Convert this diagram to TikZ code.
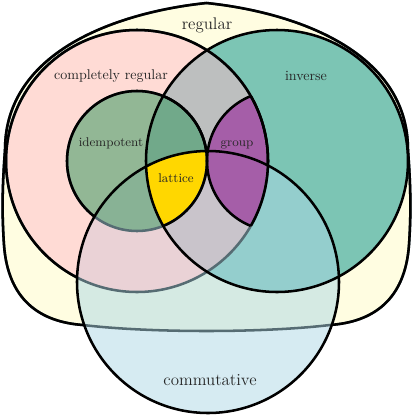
\documentclass[tikz,border=0pt]{standalone}
\usepackage{xcolor}
\usepackage{tikz}
\definecolor{RegularFill}{HTML}{FFFDE1}
\definecolor{InverseFill}{HTML}{7CC5B4}
\definecolor{CommFill}{HTML}{ADD8E6}
\definecolor{CRFill}{HTML}{FFBBCB}
\definecolor{IdemFill}{HTML}{279456}
\definecolor{LatticeFill}{HTML}{FFD700}
\definecolor{GroupFill}{HTML}{A55EA8}
\definecolor{DimLine}{HTML}{566C73}

\begin{document}
\begin{tikzpicture}[x=0.25mm, y=-0.25mm,
  outline/.style={line width=1.8pt, black},
  dimmed/.style={line width=1.8pt, DimLine},
  setname/.style={text=black!85}
]
\useasboundingbox (0,0) rectangle (416,415);
\coordinate (cr) at (137,161);
\coordinate (inv) at (277,161);
\coordinate (comm) at (208,282);
\def\regpath{(206.5,3) .. controls (120,12) and (5,50) .. (5,150)
  .. controls (2,190) and (2,215) .. (4,245)
  .. controls (8,300) and (40,322) .. (83,325)
  .. controls (150,333) and (263,333) .. (330,325)
  .. controls (373,322) and (405,300) .. (409,245)
  .. controls (411,215) and (411,190) .. (408,150)
  .. controls (408,50) and (293,12) .. (206.5,3) -- cycle}

% fills
\fill[RegularFill] \regpath;
\fill[InverseFill] (inv) circle (131);
\fill[CommFill, fill opacity=0.5] (comm) circle (131);
\fill[CRFill, fill opacity=0.5] (cr) circle (131);
\fill[IdemFill, fill opacity=0.5] (cr) circle (70);
\begin{scope}
  \clip (cr) circle (70);
  \clip (inv) circle (131);
  \fill[LatticeFill] (comm) circle (131);
\end{scope}
\begin{scope}
  \clip (cr) circle (131);
  \fill[GroupFill] (inv) circle (70);
\end{scope}

% outlines
\draw[dimmed] \regpath;
\draw[dimmed] (cr) circle (131);
\draw[dimmed] (cr) circle (70);
\begin{scope}[even odd rule]
  \clip (-20,-20) rectangle (440,440) (comm) circle (131);
  \draw[outline] \regpath;
  \draw[outline] (cr) circle (131);
  \draw[outline] (cr) circle (70);
\end{scope}
\begin{scope}
  \clip (inv) circle (131);
  \draw[outline] (cr) circle (70);
\end{scope}
\begin{scope}
  \clip (cr) circle (131);
  \draw[outline] (inv) circle (70);
\end{scope}
\begin{scope}
  \clip (inv) circle (70);
  \draw[outline] (cr) circle (131);
\end{scope}
\draw[outline] (inv) circle (131);
\draw[outline] (comm) circle (131);

\node[setname, font=\large] (regular) at (207,25) {regular};
\node[setname] (compreg) at (111,76) {completely regular};
\node[setname] (inverse) at (306,76) {inverse};
\node[setname, font=\small] (idempotent) at (111,143) {idempotent};
\node[setname, font=\small] (group) at (237,145) {group};
\node[setname, font=\small] (lattice) at (176,178) {lattice};
\node[setname, font=\large] (commutative) at (210,380) {commutative};
\end{tikzpicture}
\end{document}
